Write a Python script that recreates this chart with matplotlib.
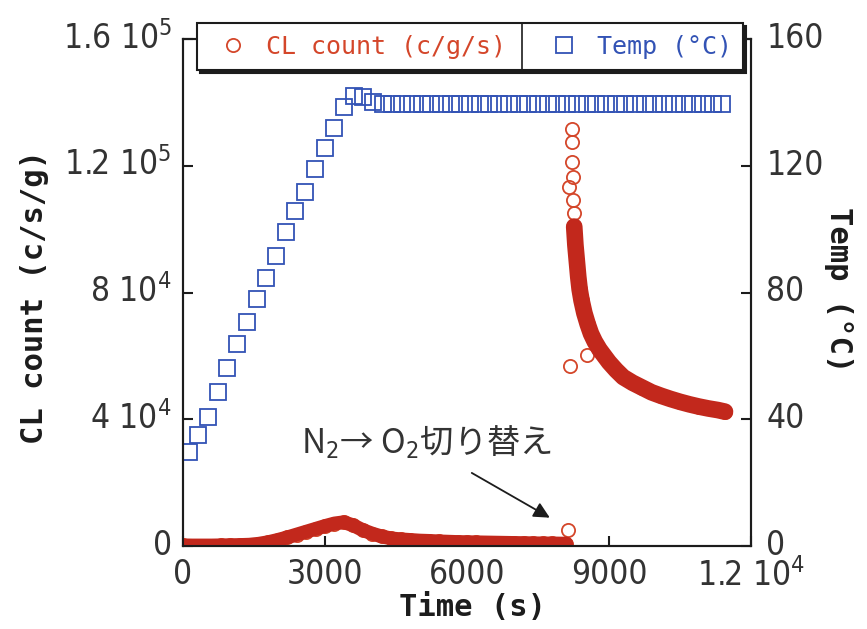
import matplotlib.pyplot as plt
from matplotlib.lines import Line2D
from matplotlib.transforms import ScaledTranslation

#_____________________data
# CL count while the gas is still N2 (c/s/g)
cl_n2_time = [0, 200, 400, 600, 800, 1000, 1200, 1400, 1600, 1800,
              2000, 2200, 2400, 2600, 2800, 3000, 3200, 3400, 3600, 3800,
              4000, 4200, 4400, 4600, 4800, 5000, 5200, 5400, 5600, 5800,
              6000, 6200, 6400, 6600, 6800, 7000, 7200, 7400, 7600, 7800,
              8000, 8100]
cl_n2_count = [200, 150, 150, 150, 200, 250, 300, 400, 700, 1200,
               1900, 2700, 3600, 4500, 5400, 6300, 7100, 7500, 6500, 5000,
               3900, 3000, 2400, 2100, 1900, 1700, 1600, 1450, 1350, 1250,
               1200, 1150, 1100, 1050, 1000, 950, 900, 850, 800, 800,
               750, 750]
# CL count after switching to O2
cl_o2_time = [8160, 8210, 8215, 8225, 8230, 8240, 8250, 8265, 8290, 8320,
              8350, 8380, 8420, 8480, 8550, 8620, 8700, 8800, 8900, 9000,
              9150, 9300, 9500, 9700, 9900, 10100, 10300, 10500, 10700, 10900,
              11100, 11300, 11450]
cl_o2_count = [113300, 131500, 127600, 121300, 116500, 109200, 105100, 100800, 95000, 90000,
               85000, 81000, 77500, 73500, 70000, 67000, 64500, 62000, 60000, 58000,
               55500, 53300, 51500, 50000, 48500, 47400, 46400, 45500, 44700, 44000,
               43400, 42900, 42400]
# stray points around the switch
cl_stray_time = [8130, 8170, 8530]
cl_stray_count = [5000, 56800, 60300]

# temperature (°C)
temp_time = [120, 325, 530, 735, 940, 1145, 1350, 1555, 1760, 1965,
             2170, 2375, 2580, 2785, 2990, 3195, 3400, 3605, 3810, 4015,
             4220, 4425, 4630, 4835, 5040, 5245, 5450, 5655, 5860, 6065,
             6270, 6475, 6680, 6885, 7090, 7295, 7500, 7705, 7910, 8115,
             8320, 8525, 8730, 8935, 9140, 9345, 9550, 9755, 9960, 10165,
             10370, 10575, 10780, 10985, 11190, 11395]
temp_c = [29.7, 35.0, 40.7, 48.6, 56.2, 63.7, 70.7, 77.9, 84.6, 91.5,
          99.1, 105.7, 111.7, 119.0, 125.6, 131.9, 138.5, 142.0, 141.7, 140.0,
          139.5, 139.5, 139.5, 139.5, 139.5, 139.5, 139.5, 139.5, 139.5, 139.5,
          139.5, 139.5, 139.5, 139.5, 139.5, 139.5, 139.5, 139.5, 139.5, 139.5,
          139.5, 139.5, 139.5, 139.5, 139.5, 139.5, 139.5, 139.5, 139.5, 139.5,
          139.5, 139.5, 139.5, 139.5, 139.5, 139.5]

x_ticks = [0, 3000, 6000, 9000, 12000]
x_tick_labels = ['0', '3000', '6000', '9000', '1.2 10$^4$']
cl_ticks = [0, 40000, 80000, 120000, 160000]
cl_tick_labels = ['0', '4 10$^4$', '8 10$^4$', '1.2 10$^5$', '1.6 10$^5$']
temp_ticks = [0, 40, 80, 120, 160]

#_____________________style
plt.rcParams['font.family'] = ['DejaVu Sans']
plt.rcParams['font.stretch'] = 'condensed'
plt.rcParams['mathtext.fontset'] = 'custom'
plt.rcParams['mathtext.rm'] = 'DejaVu Sans:stretch=condensed'
plt.rcParams['mathtext.it'] = 'DejaVu Sans:stretch=condensed'

red = '#d4462a'
red_dark = '#c2281c'
blue = '#3353b5'
ink = '#1c1c1c'

fig = plt.figure(figsize=(8.67, 6.29), dpi=100)
ax = fig.add_axes([183 / 867, 1 - 546 / 629, 568 / 867, 507 / 629])
ax2 = ax.twinx()

#_____________________CL count
rings = ax.plot(cl_n2_time + cl_o2_time + cl_stray_time,
                cl_n2_count + cl_o2_count + cl_stray_count,
                'o', ls='none', mfc='none', mec=red, ms=9.5, mew=1.3, zorder=2)[0]
# the dense stretches merge into a solid band
ax.plot(cl_n2_time, cl_n2_count, '-', color=red_dark, lw=10, solid_capstyle='round', zorder=3)
ax.plot(cl_o2_time[7:], cl_o2_count[7:], '-', color=red_dark, lw=12, solid_capstyle='round', zorder=3)

#_____________________temperature
squares = ax2.plot(temp_time, temp_c, 's', ls='none', mfc='none', mec=blue, ms=11.5, mew=1.3)[0]

ax.set_xlim(0, 12000)
ax.set_ylim(0, 160000)
ax2.set_ylim(0, 160)
ax.set_xticks(x_ticks, x_tick_labels)
ax.set_yticks(cl_ticks, cl_tick_labels)
ax2.set_yticks(temp_ticks, [str(t) for t in temp_ticks])

for a in (ax, ax2):
    for s in a.spines.values():
        s.set_linewidth(1.5)
        s.set_color(ink)
    a.tick_params(direction='in', length=7, width=1.5, labelsize=24, labelcolor='#333333', color=ink)
ax.tick_params(axis='y', pad=8)
ax.tick_params(axis='x', pad=9)
ax2.tick_params(axis='y', pad=11)

# y tick labels sit a little above their ticks in the original
lift = ScaledTranslation(0, 3 / 72, fig.dpi_scale_trans)
for t in ax.yaxis.get_major_ticks() + ax2.yaxis.get_major_ticks():
    t.label1.set_transform(t.label1.get_transform() + lift)
    t.label2.set_transform(t.label2.get_transform() + lift)

#_____________________labels
fig.text(35 / 867, 1 - 297 / 629, 'CL count (c/s/g)', rotation=90, ha='center', va='center',
         family='DejaVu Sans Mono', stretch='normal', weight='bold', size=22, color=ink)
fig.text(838 / 867, 1 - 290 / 629, 'Temp (°C)', rotation=270, ha='center', va='center',
         family='DejaVu Sans Mono', stretch='normal', weight='bold', size=22, color=ink)
fig.text(472 / 867, 1 - 608 / 629, 'Time (s)', ha='center', va='center',
         family='DejaVu Sans Mono', stretch='normal', weight='bold', size=22, color=ink)

#_____________________switch annotation
ax.annotate('', xy=(7800, 8500), xytext=(6050, 23500),
            arrowprops=dict(arrowstyle='-|>', color=ink, lw=1.3, mutation_scale=24))
ax.text(2500, 32800, 'N$_2$→ O$_2$切り替え', ha='left', va='center', size=24,
        family=['Noto Sans CJK JP', 'DejaVu Sans'], stretch='normal',
        math_fontfamily='dejavusans', color='#333333')

#_____________________legend
leg = ax2.legend([rings, squares], ['CL count (c/g/s)', 'Temp (°C)'], ncol=2, mode='expand',
                 loc='lower left', bbox_to_anchor=(0.0246, 0.939, 0.961, 0.09), borderaxespad=0,
                 prop={'family': 'DejaVu Sans Mono', 'size': 18, 'stretch': 'normal'}, fancybox=False,
                 edgecolor=ink, framealpha=1, borderpad=0.45, handlelength=2.0, handletextpad=0.3,
                 shadow={'color': ink, 'alpha': 1})
leg.get_frame().set_linewidth(1.5)
leg.get_texts()[0].set_color(red)
leg.get_texts()[1].set_color(blue)

fig.canvas.draw()
bb = leg.get_window_extent().transformed(fig.transFigure.inverted())
xd = bb.x0 + 0.595 * bb.width
fig.add_artist(Line2D([xd, xd], [bb.y0, bb.y1], color=ink, lw=1.2, transform=fig.transFigure))

fig.savefig('out.png', dpi=100)
